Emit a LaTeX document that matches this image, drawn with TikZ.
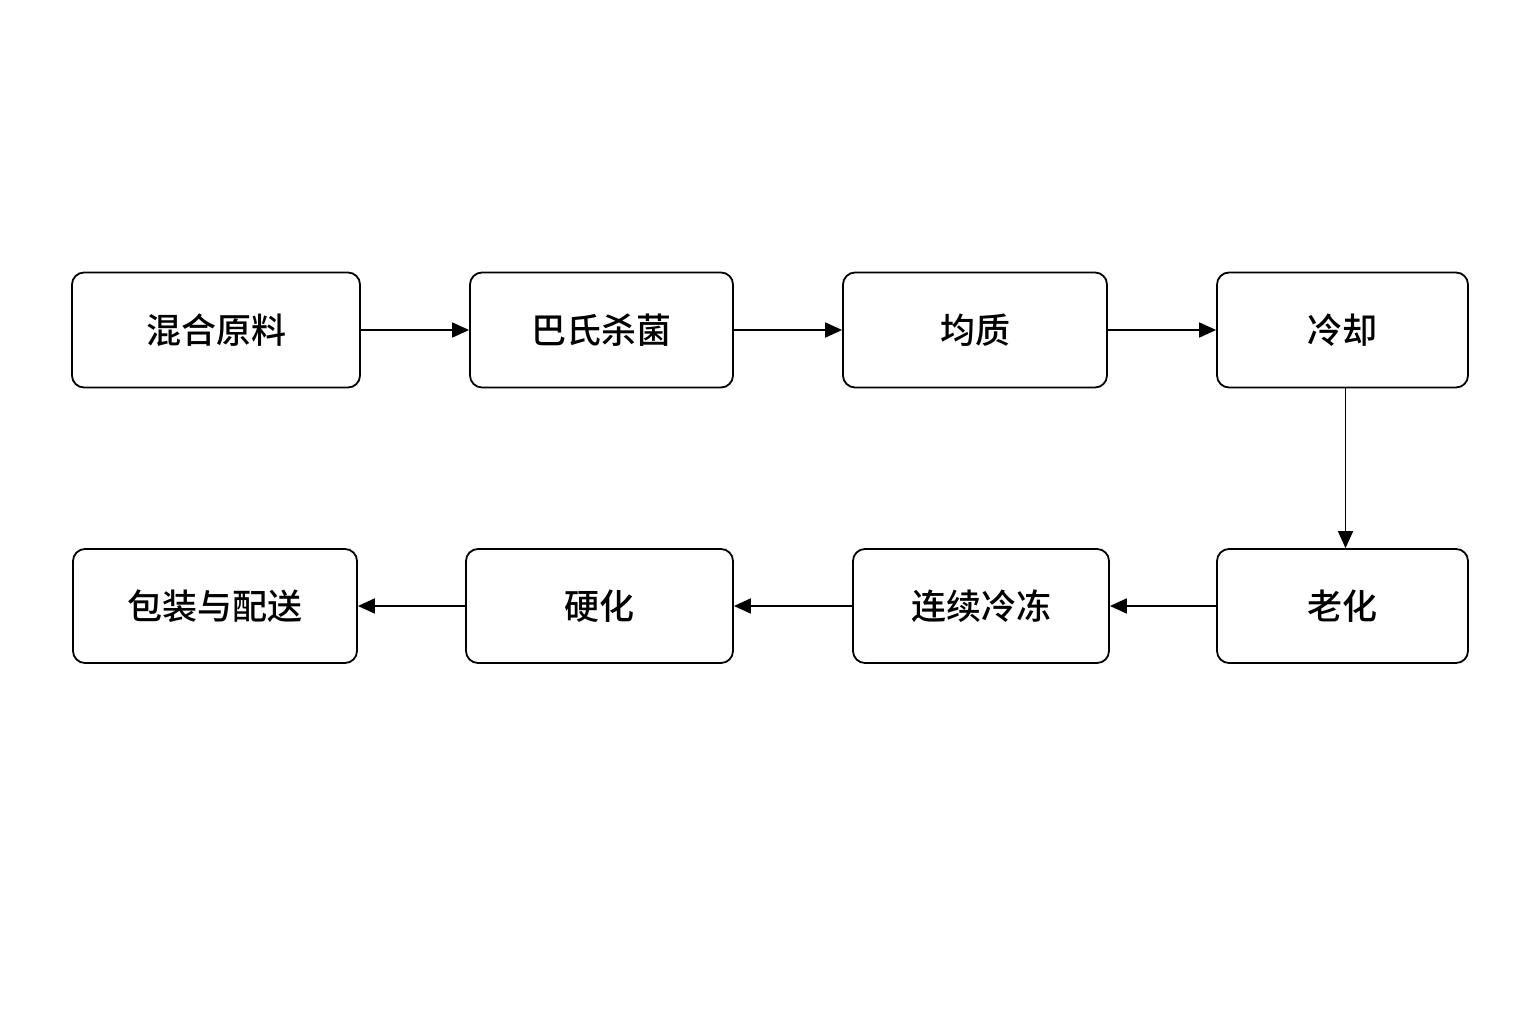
\documentclass[tikz,border=0pt]{standalone}
\usepackage{fontspec}
\newfontfamily\cjk{Noto Sans CJK SC Medium}
\usetikzlibrary{arrows.meta}
\begin{document}
\begin{tikzpicture}[x=1pt,y=-1pt,
 box/.style={draw,line width=1.8pt,rounded corners=12pt,inner sep=0pt,font=\cjk\fontsize{35}{40}\selectfont},
 arr/.style={draw,line width=1.8pt,-{Triangle[length=17pt,width=15pt]}}]
\useasboundingbox (0,0) rectangle (1536,1024);
\fill[white] (0,0) rectangle (1536,1024);
\node[box,minimum width=288pt,minimum height=115pt] (a) at (216,330) {混合原料};
\node[box,minimum width=263pt,minimum height=115pt] (b) at (601.5,330) {巴氏杀菌};
\node[box,minimum width=264pt,minimum height=115pt] (c) at (975,330) {均质};
\node[box,minimum width=251pt,minimum height=115pt] (d) at (1342.5,330) {冷却};
\node[box,minimum width=251pt,minimum height=114pt] (e) at (1342.5,606) {老化};
\node[box,minimum width=256pt,minimum height=114pt] (f) at (981,606) {连续冷冻};
\node[box,minimum width=267pt,minimum height=114pt] (g) at (599.5,606) {硬化};
\node[box,minimum width=284pt,minimum height=114pt] (h) at (215,606) {包装与配送};
\draw[arr] (a) -- (b);
\draw[arr] (b) -- (c);
\draw[arr] (c) -- (d);
\draw[arr] ([xshift=3pt]d.south) -- ([xshift=3pt]e.north);
\draw[arr] (e) -- (f);
\draw[arr] (f) -- (g);
\draw[arr] (g) -- (h);
\end{tikzpicture}
\end{document}
